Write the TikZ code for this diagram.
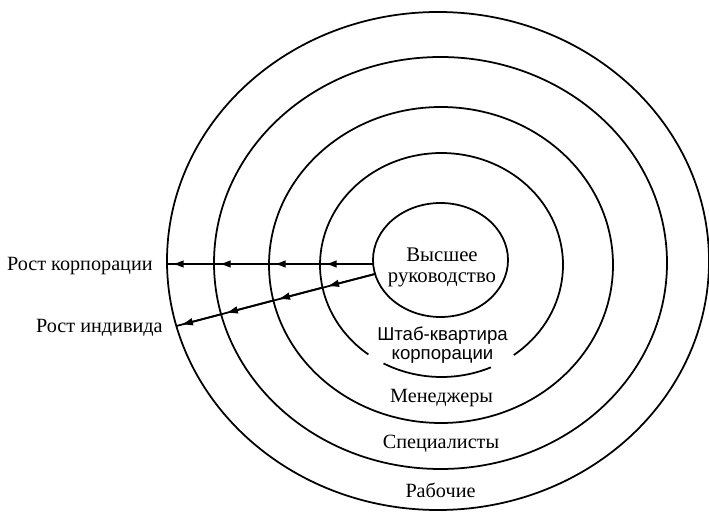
\documentclass[tikz,border=0pt]{standalone}
\usepackage{fontspec}
\setmainfont{Liberation Serif}
\newfontfamily\hqfont{Liberation Sans}
\usetikzlibrary{arrows.meta}

\tikzset{
  ring/.style={line width=1pt},
  growthline/.style={line width=1.4pt},
  growth/.style={line width=1.4pt,-{Latex[length=7pt,width=4.4pt]},shorten >=2.5pt},
  layer/.style={anchor=base,font=\fontsize{11.5}{12}\selectfont},
}

\begin{document}
\begin{tikzpicture}[x=0.02cm,y=0.02cm]
  \useasboundingbox (0,0) rectangle (709,514);

  % centres of the rings
  \coordinate (c0) at (440.5,254);
  \coordinate (c1) at (441.5,249);
  \coordinate (c2) at (441,249);
  \coordinate (c3) at (440.5,251);
  \coordinate (c4) at (438,253);

  \draw[ring] (c0) ellipse [x radius=67.5,y radius=57];
  \draw[ring] ([shift={(306.5:121.5 and 112)}]c1)
    arc[start angle=306.5,end angle=593,x radius=121.5,y radius=112];
  \draw[ring] ([shift={(241.5:121.5 and 112)}]c1)
    arc[start angle=241.5,end angle=294,x radius=121.5,y radius=112];
  \draw[ring] (c2) ellipse [x radius=172,y radius=158];
  \draw[ring] (c3) ellipse [x radius=226.5,y radius=206];
  \draw[ring] (c4) ellipse [x radius=271,y radius=249];

  % where the growth lines cross the rings
  \coordinate (h0) at (373.2,250);
  \coordinate (h1) at (320,250);
  \coordinate (h2) at (269,250);
  \coordinate (h3) at (214,250);
  \coordinate (h4) at (167,250);
  \coordinate (d0) at (375,240);
  \coordinate (d1) at (322.5,226.5);
  \coordinate (d2) at (273.5,213.6);
  \coordinate (d3) at (221.3,199.8);
  \coordinate (d4) at (176.4,188);

  \draw[growthline] (h0) -- (h4);
  \draw[growthline,line width=1pt] (d0) -- (d4);
  \foreach \a/\b in {h0/h1,h1/h2,h2/h3,h3/h4}
    \draw[growth] (\a) -- (\b);
  \foreach \a/\b in {d0/d1,d1/d2,d2/d3,d3/d4}
    \draw[growth,line width=1pt] (\a) -- (\b);

  \node[align=center,font=\fontsize{11.8}{11.9}\selectfont] (top) at (442,246.5)
    {Высшее\\руководство};
  \node[align=center,font=\hqfont\fontsize{10.6}{10.8}\selectfont] (hq) at (442.5,169)
    {Штаб-квартира\\корпорации};
  \node[layer] (managers) at (441.5,112) {Менеджеры};
  \node[layer] (experts) at (441,66) {Специалисты};
  \node[layer] (workers) at (440.5,17) {Рабочие};

  \node[layer,anchor=base east,inner sep=0pt] (corp) at (153,243) {Рост корпорации};
  \node[layer,anchor=base east,inner sep=0pt] (indiv) at (163,181.5) {Рост индивида};
\end{tikzpicture}
\end{document}
